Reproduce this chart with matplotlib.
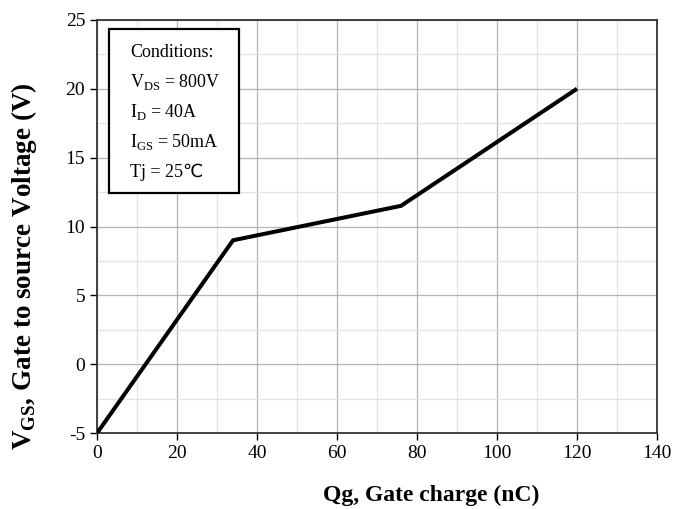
import matplotlib
matplotlib.use('Agg')
from matplotlib import pyplot as plt
from matplotlib.patches import Rectangle
from matplotlib.ticker import MultipleLocator

plt.rcParams['font.family'] = ['Liberation Serif', 'DejaVu Sans']
plt.rcParams['mathtext.fontset'] = 'custom'
plt.rcParams['mathtext.rm'] = 'Liberation Serif'
plt.rcParams['mathtext.bf'] = 'Liberation Serif:bold'
plt.rcParams['axes.unicode_minus'] = False

# gate charge curve
qg = [0, 34, 76, 120]
vgs = [-5, 9, 11.5, 20]

conditions = [
    'Conditions:',
    r'V$_{\mathrm{DS}}$ = 800V',
    r'I$_{\mathrm{D}}$ = 40A',
    r'I$_{\mathrm{GS}}$ = 50mA',
    'Tj = 25\u2103',
]

fig = plt.figure(figsize=(6.88, 5.09), dpi=100)
ax = fig.add_axes([0.141, 0.149, 0.814, 0.812])

ax.plot(qg, vgs, color='black', lw=2.9, solid_capstyle='butt', zorder=3)

ax.set_xlim(0, 140)
ax.set_ylim(-5, 25)
ax.xaxis.set_major_locator(MultipleLocator(20))
ax.yaxis.set_major_locator(MultipleLocator(5))
ax.xaxis.set_minor_locator(MultipleLocator(10))
ax.yaxis.set_minor_locator(MultipleLocator(2.5))
ax.grid(which='major', color='#b4b4b4', lw=0.9)
ax.grid(which='minor', color='#e2e2e2', lw=0.9)
ax.set_axisbelow(True)
ax.tick_params(which='major', direction='out', length=5, width=1, labelsize=14, colors='black')
ax.tick_params(which='minor', length=0)
for s in ax.spines.values():
    s.set_linewidth(1.3)
    s.set_color('#333333')

ax.set_xlabel('Qg, Gate charge (nC)', fontsize=17, fontweight='bold', va='top')
ax.xaxis.set_label_coords(0.596, -0.126)
ax.set_ylabel(r'V$_{\mathbf{GS}}$, Gate to source Voltage (V)', fontsize=19.5, fontweight='bold')
ax.yaxis.set_label_coords(-0.104, 0.405)

# conditions box
ax.add_patch(Rectangle((0.021, 0.580), 0.232, 0.398, transform=ax.transAxes,
                       facecolor='white', edgecolor='black', lw=1.6, zorder=4))
for i, line in enumerate(conditions):
    ax.text(0.059, 0.922 - i * 0.0725, line, transform=ax.transAxes, va='center', ha='left',
            fontsize=13, zorder=5)

fig.savefig('out.png', dpi=100)
